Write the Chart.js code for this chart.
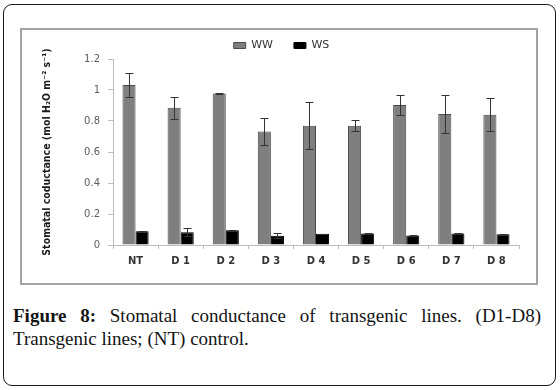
<!DOCTYPE html>
<html>
<head>
<meta charset="utf-8">
<script src="https://cdn.jsdelivr.net/npm/chart.js@4.4.1/dist/chart.umd.min.js"></script>
<style>
  html, body { margin: 0; padding: 0; background: #fff; }
  body { width: 560px; height: 390px; position: relative; overflow: hidden; }
  .frame {
    position: absolute; left: 3px; top: 4px; width: 553px; height: 382px;
    box-sizing: border-box; border: 1.5px solid #1a1a1a; border-radius: 9px;
  }
  .plotbox {
    position: absolute; left: 20px; top: 28px; width: 518px; height: 257px;
    box-sizing: border-box; border: 2px solid #a3a3a3; background: #fff;
  }
  .plotbox canvas { display: block; }
  .caption {
    position: absolute; left: 13px; top: 304px; width: 528px;
    font-family: 'Liberation Serif', 'DejaVu Serif', serif; font-size: 19px;
    line-height: 23px; text-align: justify; color: #141414;
  }
</style>
</head>
<body>
<div class="frame"></div>
<div class="plotbox"><canvas id="gsChart" width="514" height="253"></canvas></div>
<div class="caption"><b>Figure 8:</b> Stomatal conductance of transgenic lines. (D1-D8) Transgenic lines; (NT) control.</div>

<script>
'use strict';

// --- data ---
const lines = ['NT', 'D 1', 'D 2', 'D 3', 'D 4', 'D 5', 'D 6', 'D 7', 'D 8'];
const wwMean = [1.032, 0.885, 0.978, 0.733, 0.770, 0.770, 0.903, 0.845, 0.841];
const wwErr  = [0.075, 0.072, 0.004, 0.085, 0.150, 0.035, 0.062, 0.120, 0.105];
const wsMean = [0.088, 0.082, 0.095, 0.060, 0.072, 0.075, 0.062, 0.074, 0.069];
const wsErr  = [0.003, 0.025, 0.002, 0.015, 0.002, 0.003, 0.002, 0.004, 0.003];
const yTicks = [0, 0.2, 0.4, 0.6, 0.8, 1, 1.2];

const axisGrey = '#bdbdbd';

// error bars drawn from the y scale
const errorBars = {
  id: 'errorBars',
  afterDatasetsDraw(chart) {
    const { ctx } = chart;
    const y = chart.scales.y;
    const errs = [wwErr, wsErr];
    ctx.save();
    ctx.strokeStyle = '#333';
    ctx.lineWidth = 1;
    chart.data.datasets.forEach((ds, i) => {
      chart.getDatasetMeta(i).data.forEach((bar, j) => {
        const v = ds.data[j];
        const e = errs[i][j];
        const x = Math.round(bar.x) + 0.5;
        const top = Math.round(y.getPixelForValue(v + e)) + 0.5;
        const bot = Math.round(y.getPixelForValue(v - e)) + 0.5;
        ctx.beginPath();
        ctx.moveTo(x, top); ctx.lineTo(x, bot);
        ctx.moveTo(x - 4, top); ctx.lineTo(x + 4, top);
        ctx.moveTo(x - 4, bot); ctx.lineTo(x + 4, bot);
        ctx.stroke();
      });
    });
    ctx.restore();
  }
};

new Chart(document.getElementById('gsChart').getContext('2d'), {
  type: 'bar',
  data: {
    labels: lines,
    datasets: [
      {
        label: 'WW',
        data: wwMean,
        backgroundColor: '#7f7f7f',
        borderColor: '#4a4a4a',
        borderWidth: 1,
        categoryPercentage: 0.58,
        barPercentage: 1.0,
      },
      {
        label: 'WS',
        data: wsMean,
        backgroundColor: '#000',
        borderColor: '#000',
        borderWidth: 1,
        categoryPercentage: 0.58,
        barPercentage: 1.0,
      },
    ],
  },
  options: {
    responsive: false,
    animation: false,
    layout: { padding: { left: 22, right: 17, top: -11, bottom: 0 } },
    plugins: {
      tooltip: { enabled: false },
      legend: {
        position: 'top',
        maxHeight: 40,
        labels: {
          boxWidth: 12,
          boxHeight: 6,
          padding: 21,
          color: '#333',
          font: { family: "'DejaVu Sans', sans-serif", size: 11 },
        },
      },
    },
    scales: {
      x: {
        grid: { drawOnChartArea: false, tickLength: 4, color: axisGrey },
        border: { color: axisGrey },
        ticks: {
          padding: 6,
          color: '#333',
          font: { family: "'DejaVu Sans', sans-serif", size: 10, weight: 'bold' },
        },
        afterFit: s => { s.height = 38; },
      },
      y: {
        min: 0,
        max: 1.2,
        afterBuildTicks: s => { s.ticks = yTicks.map(v => ({ value: v })); },
        grid: { drawOnChartArea: false, tickLength: 5, color: axisGrey },
        border: { color: axisGrey },
        ticks: {
          padding: 8,
          color: '#5c5c5c',
          font: { family: "'DejaVu Sans', sans-serif", size: 10 },
          callback: v => String(Math.round(v * 10) / 10),
        },
        title: {
          display: true,
          text: 'Stomatal coductance (mol H\u2082O m\u207B\u00B2 s\u207B\u00B9)',
          color: '#1a1a1a',
          padding: { top: -3, bottom: 0 },
          font: { family: "'Liberation Sans Narrow', 'DejaVu Sans Condensed', sans-serif", size: 10.5, weight: 'bold' },
        },
        afterFit: s => { s.width = 69; },
      },
    },
  },
  plugins: [errorBars],
});
</script>
</body>
</html>
